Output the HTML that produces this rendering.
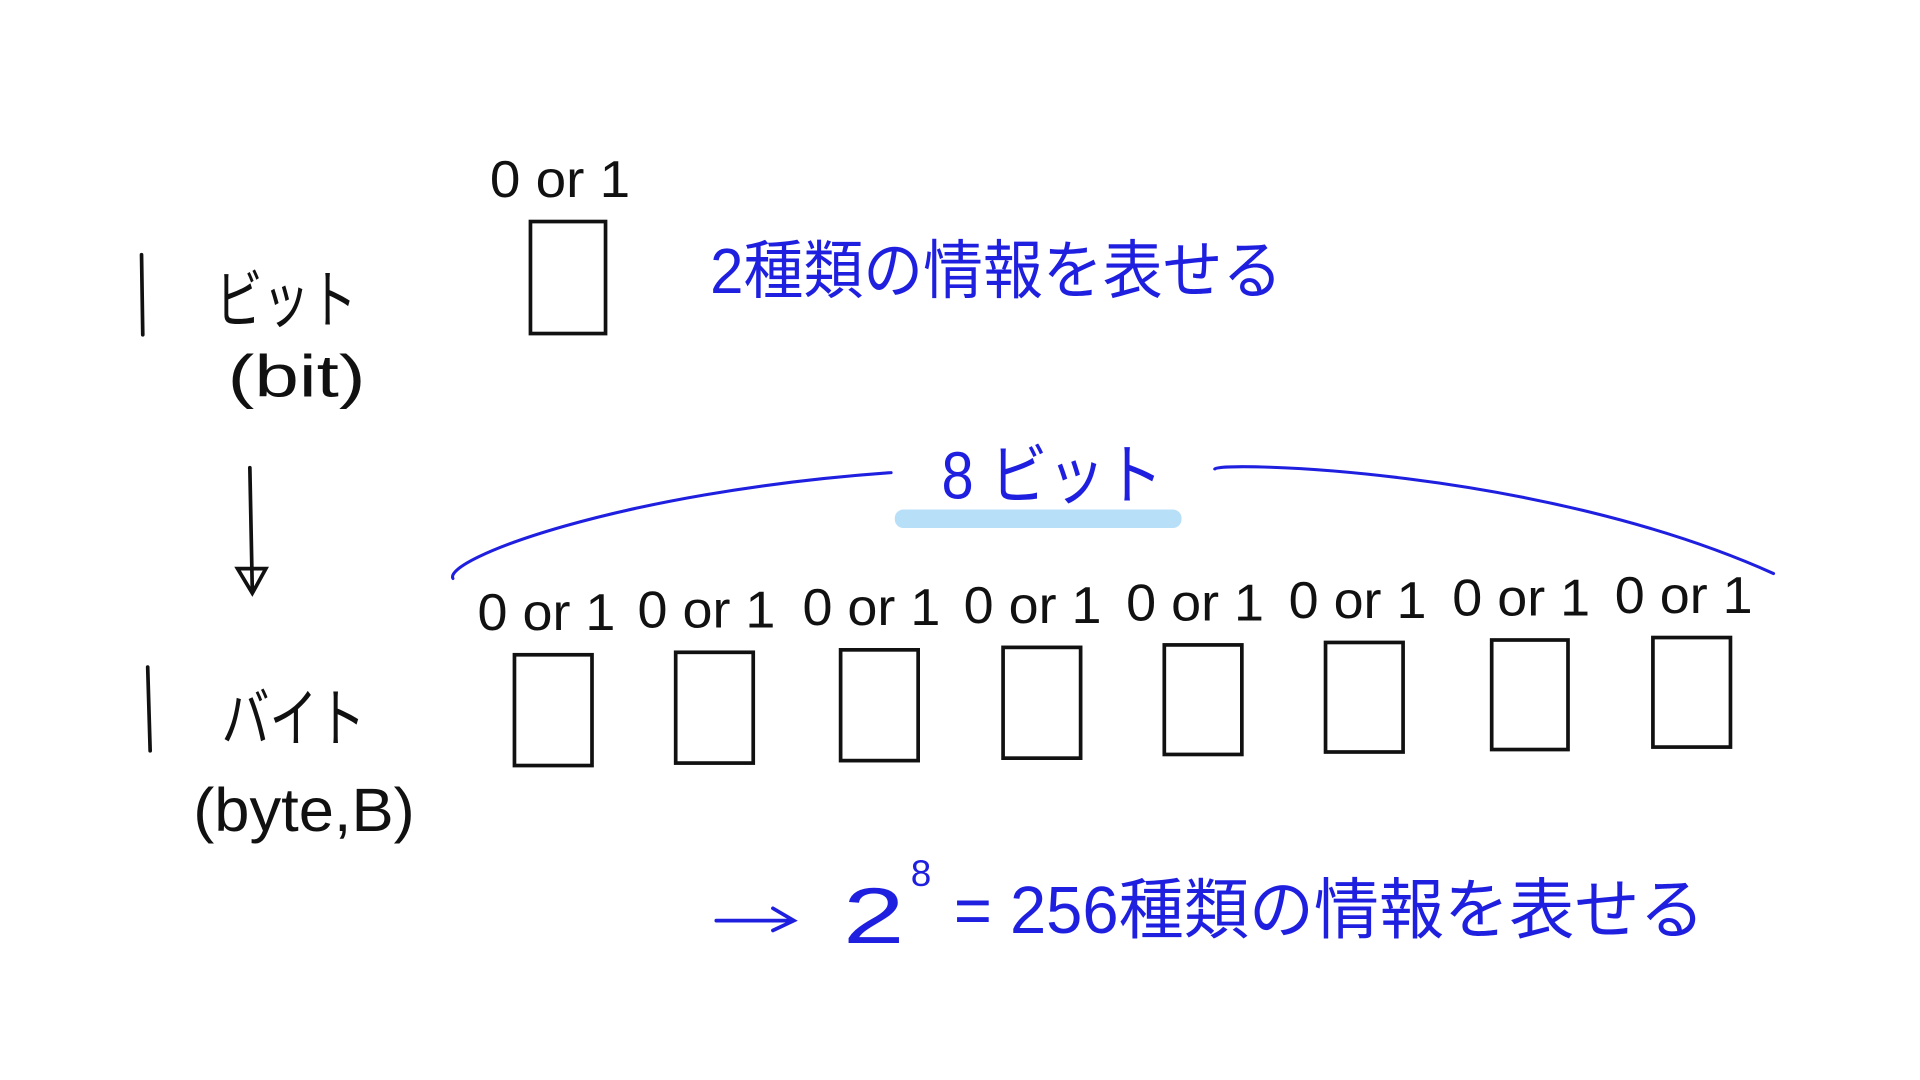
<!DOCTYPE html>
<html><head><meta charset="utf-8"><style>
html,body{margin:0;padding:0;background:#fff;}
svg{display:block;}
text{font-family:"Liberation Sans","Noto Sans CJK JP",sans-serif;}
</style></head><body>
<svg width="1920" height="1080" viewBox="0 0 1560 877.5" xmlns="http://www.w3.org/2000/svg">
<g fill="none" stroke="#111" stroke-width="3" stroke-linecap="round">
  <line x1="115" y1="207" x2="116" y2="272"/>
  <line x1="120" y1="542" x2="122" y2="610"/>
  <line x1="203" y1="380" x2="205" y2="480"/>
  <path d="M193 462 L205 482 L216 462 Z"/>
  <rect x="431" y="180" width="61" height="91"/>
  <rect x="418" y="532" width="63" height="90"/>
  <rect x="549" y="530" width="63" height="90"/>
  <rect x="683" y="528" width="63" height="90"/>
  <rect x="815" y="526" width="63" height="90"/>
  <rect x="946" y="524" width="63" height="89"/>
  <rect x="1077" y="522" width="63" height="89"/>
  <rect x="1212" y="520" width="62" height="89"/>
  <rect x="1343" y="518" width="63" height="89"/>
</g>
<g fill="none" stroke="#1f1fe0" stroke-width="2.5" stroke-linecap="round">
  <path d="M368 470 C 360 455, 500 400, 724 384"/>
  <path d="M987 381 C 990 375, 1250 380, 1441 466"/>
  <path d="M582 748 L643 748 M628 738 L645 748 L628 756" stroke-width="3"/>
</g>
<rect x="727" y="414" width="233" height="15" rx="7" fill="#b8dff8"/>
<g fill="#111" font-size="42">
  <text x="398" y="160" textLength="114" lengthAdjust="spacingAndGlyphs">0 or 1</text>
  <text x="388" y="512" textLength="112" lengthAdjust="spacingAndGlyphs">0 or 1</text>
  <text x="518" y="510" textLength="112" lengthAdjust="spacingAndGlyphs">0 or 1</text>
  <text x="652" y="508" textLength="112" lengthAdjust="spacingAndGlyphs">0 or 1</text>
  <text x="783" y="506" textLength="112" lengthAdjust="spacingAndGlyphs">0 or 1</text>
  <text x="915" y="504" textLength="112" lengthAdjust="spacingAndGlyphs">0 or 1</text>
  <text x="1047" y="502" textLength="112" lengthAdjust="spacingAndGlyphs">0 or 1</text>
  <text x="1180" y="500" textLength="112" lengthAdjust="spacingAndGlyphs">0 or 1</text>
  <text x="1312" y="498" textLength="112" lengthAdjust="spacingAndGlyphs">0 or 1</text>
  <text x="175" y="262" font-size="52" textLength="115" lengthAdjust="spacingAndGlyphs">ビット</text>
  <text x="185" y="322" font-size="48" textLength="112" lengthAdjust="spacingAndGlyphs">(bit)</text>
  <text x="180" y="602" font-size="52" textLength="117" lengthAdjust="spacingAndGlyphs">バイト</text>
  <text x="157" y="675" font-size="50" textLength="180" lengthAdjust="spacingAndGlyphs">(byte,B)</text>
</g>
<g fill="#1f1fe0">
  <text x="577" y="238" font-size="52" textLength="465" lengthAdjust="spacingAndGlyphs">2種類の情報を表せる</text>
  <text x="765" y="405" font-size="54" textLength="180" lengthAdjust="spacingAndGlyphs">8 ビット</text>
  <text x="685" y="766" font-size="64" textLength="50" lengthAdjust="spacingAndGlyphs">2</text>
  <text x="740" y="720" font-size="30">8</text>
  <text x="775" y="758" font-size="54" textLength="610" lengthAdjust="spacingAndGlyphs">= 256種類の情報を表せる</text>
</g>
</svg>
</body></html>
